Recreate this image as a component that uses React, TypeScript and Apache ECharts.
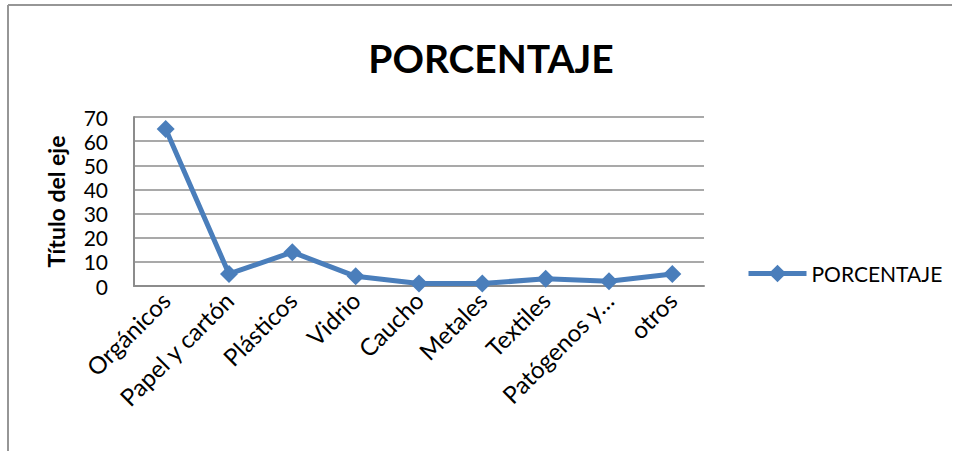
import React, { useEffect, useRef } from "react";
import * as echarts from "echarts";

const categories = [
  "Orgánicos",
  "Papel y cartón",
  "Plásticos",
  "Vidrio",
  "Caucho",
  "Metales",
  "Textiles",
  "Patógenos y…",
  "otros",
];
const porcentaje = [65, 5, 14, 4, 1, 1, 3, 2, 5];
const seriesName = "PORCENTAJE";
const chartTitle = "PORCENTAJE";
const yAxisTitle = "Título del eje";

export default function App() {
  const ref = useRef<HTMLDivElement>(null);
  useEffect(() => {
    document.body.style.margin = "0";
    const chart = echarts.init(ref.current!, null, { renderer: "svg" });
    const font = "Lato, 'Open Sans', sans-serif";
    const gridColor = "#8c8c8c";
    chart.setOption({
      animation: false,
      backgroundColor: "#ffffff",
      textStyle: { fontFamily: font },
      title: {
        text: chartTitle,
        left: 486,
        textAlign: "center",
        top: 33,
        textStyle: { fontFamily: font, fontWeight: "bold", fontSize: 39, color: "#000" },
      },
      graphic: [
        { type: "line", shape: { x1: 8, y1: 5, x2: 952, y2: 5 }, style: { stroke: "#969696", lineWidth: 2 } },
        { type: "line", shape: { x1: 8, y1: 5, x2: 8, y2: 451 }, style: { stroke: "#969696", lineWidth: 2 } },
      ],
      legend: {
        left: 741,
        top: 258,
        itemWidth: 58,
        itemHeight: 22,
        itemGap: 2,
        lineStyle: { width: 5 },
        textStyle: { fontFamily: font, fontSize: 21, color: "#000" },
        data: [seriesName],
      },
      grid: { left: 134, top: 117, right: 257, bottom: 165, containLabel: false },
      xAxis: {
        type: "category",
        data: categories,
        boundaryGap: true,
        axisLine: { show: true, lineStyle: { color: gridColor, width: 2 } },
        axisTick: { show: false },
        axisLabel: {
          rotate: 45,
          interval: 0,
          margin: 10,
          fontFamily: font,
          fontSize: 24,
          color: "#000",
        },
      },
      yAxis: {
        type: "value",
        min: 0,
        max: 70,
        interval: 10,
        name: yAxisTitle,
        nameLocation: "middle",
        nameGap: 67,
        nameRotate: 90,
        nameTextStyle: { fontFamily: font, fontWeight: "bold", fontSize: 23, color: "#000" },
        axisLine: { show: true, lineStyle: { color: gridColor, width: 2 } },
        axisTick: { show: false },
        axisLabel: { fontFamily: font, fontSize: 21, color: "#000", margin: 26 },
        splitLine: { show: true, lineStyle: { color: gridColor, width: 1.5 } },
      },
      series: [
        {
          name: seriesName,
          type: "line",
          data: porcentaje,
          symbol: "diamond",
          symbolSize: 18,
          lineStyle: { color: "#4A7EBB", width: 5 },
          itemStyle: { color: "#4A7EBB" },
        },
      ],
    });
    return () => chart.dispose();
  }, []);
  return <div ref={ref} style={{ width: 961, height: 451 }} />;
}
